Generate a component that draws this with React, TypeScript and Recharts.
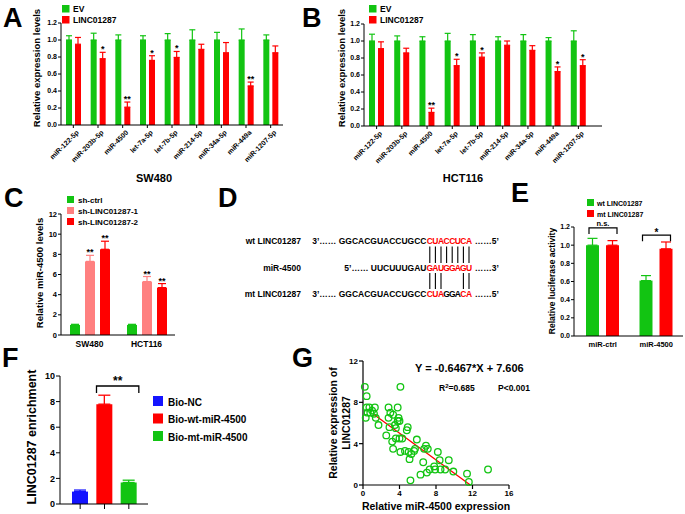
import React from 'react';
import { BarChart, Bar, XAxis, YAxis, ErrorBar, LabelList, ScatterChart, Scatter, ReferenceLine } from 'recharts';

const FONT = '"Liberation Sans", Arial, Helvetica, sans-serif';
const GREEN = '#12c412';
const RED = '#ff0000';
const PINK = '#ff8080';
const BLUE = '#1414ff';

// A / B: miRNA screen after LINC01287 overexpression
const mirnas = ['miR-122-5p', 'miR-203b-5p', 'miR-4500', 'let-7a-5p', 'let-7b-5p', 'miR-214-5p', 'miR-34a-5p', 'miR-449a', 'miR-1207-5p'];
const swEv = [1, 1, 1, 1, 1, 1, 1, 1, 1];
const swEvErr = [0.05, 0.08, 0.06, 0.05, 0.075, 0.12, 0.09, 0.13, 0.06];
const swLinc = [0.95, 0.78, 0.21, 0.76, 0.795, 0.89, 0.85, 0.46, 0.85];
const swLincErr = [0.08, 0.075, 0.06, 0.055, 0.07, 0.06, 0.12, 0.045, 0.08];
const swStars = ['', '*', '**', '*', '*', '', '', '**', ''];

const hctEv = [1, 1, 1, 1, 1, 1, 1, 1, 1];
const hctEvErr = [0.08, 0.06, 0.05, 0.09, 0.075, 0.05, 0.075, 0.04, 0.12];
const hctLinc = [0.91, 0.86, 0.16, 0.71, 0.81, 0.95, 0.89, 0.64, 0.71];
const hctLincErr = [0.08, 0.055, 0.05, 0.075, 0.05, 0.05, 0.055, 0.055, 0.07];
const hctStars = ['', '', '**', '*', '*', '', '', '*', '*'];

// C: miR-4500 after knockdown
const cLines = ['SW480', 'HCT116'];
const cCtrl = [1, 1];
const cCtrlErr = [0.06, 0.06];
const cSh1 = [7.3, 5.3];
const cSh1Err = [0.6, 0.5];
const cSh2 = [8.5, 4.7];
const cSh2Err = [0.8, 0.4];
const cStars = ['**', '**'];

// E: luciferase
const eGroups = ['miR-ctrl', 'miR-4500'];
const eWt = [1.0, 0.61];
const eWtErr = [0.075, 0.055];
const eMt = [1.0, 0.96];
const eMtErr = [0.05, 0.075];
const eSig = ['n.s.', '*'];
const eSigAt = [1.19, 1.11];

// F: biotin pulldown
const fGroups = ['Bio-NC', 'Bio-wt-miR-4500', 'Bio-mt-miR-4500'];
const fKeys = ['nc', 'wt', 'mt'];
const fVals = [0.97, 7.8, 1.68];
const fErr = [0.12, 0.7, 0.18];
const fColors = [BLUE, RED, GREEN];
const fSigPair = [1, 2];
const fSigText = '**';
const fSigAt = 9.22;

// G: correlation
const gX = [0.2, 0.4, 0.4, 0.7, 0.5, 0.3, 0.8, 1.0, 1.3, 1.2, 1.4, 1.7, 2.8, 3.0, 2.8, 3.3, 3.8, 3.9, 3.8, 4.0, 4.1, 3.5, 2.9, 3.6, 2.55, 3.2, 3.6, 4.0, 4.3, 3.3, 4.1, 4.6, 4.9, 4.8, 5.0, 5.3, 5.1, 5.6, 5.7, 5.9, 5.2, 6.3, 6.6, 6.7, 6.9, 7.1, 7.3, 7.0, 8.4, 7.8, 7.9, 8.2, 8.5, 9.0, 9.4, 9.9, 11.4, 11.6, 13.7];
const gY = [9.5, 8.6, 7.5, 7.5, 7.0, 6.5, 7.0, 7.2, 7.5, 6.9, 6.5, 5.8, 7.5, 7.0, 6.5, 6.8, 7.5, 6.5, 6.2, 6.2, 9.5, 5.8, 5.6, 5.5, 4.8, 4.2, 4.5, 4.5, 4.5, 3.5, 3.2, 3.3, 5.6, 5.3, 3.2, 3.0, 2.5, 3.3, 3.5, 4.4, 0.45, 1.0, 2.2, 3.5, 3.8, 3.5, 1.5, 1.2, 2.4, 1.8, 1.5, 3.2, 1.5, 1.5, 2.4, 1.3, 1.1, 0.3, 1.5];
const fitSlope = -0.6467;
const fitIntercept = 7.606;
const fitFrom = 1.2;

const tickStyle = (fs: number) => ({ fontSize: fs, fontWeight: 'bold', fill: '#000', fontFamily: FONT });

const starContent = (vals: number[], errs: number[], fs: number) => (p: any) => {
  const { x, y, width, height, value, index } = p;
  if (!value) return null;
  const top = Number(y) - (errs[index] * Number(height)) / vals[index];
  return (
    <text x={Number(x) + Number(width) / 2} y={top} textAnchor="middle" fontSize={fs} fontWeight="bold" fontFamily={FONT} fill="#000">
      {value}
    </text>
  );
};

const RotTick = (p: any) => {
  const x = Number(p.x) + 6;
  const y = Number(p.y) + 3;
  return (
    <text x={x} y={y} transform={`rotate(-45 ${x} ${y})`} textAnchor="end" fontSize={7} fontWeight="bold" fontFamily={FONT} fill="#000">
      {p.payload.value}
    </text>
  );
};

const catTick = (fs: number, dy: number) => (p: any) => (
  <text x={p.x} y={Number(p.y) + dy} textAnchor="middle" fontSize={fs} fontWeight="bold" fontFamily={FONT} fill="#000">
    {p.payload.value}
  </text>
);

function ScreenChart(props: any) {
  const { ev, evErr, linc, lincErr, stars, width, height, top, right, yW, padRight } = props;
  const rows = mirnas.map((name, i) => ({
    name,
    ev: ev[i],
    evErr: [0, evErr[i]],
    linc: linc[i],
    lincErr: [0, lincErr[i]],
    star: stars[i],
  }));
  return (
    <BarChart width={width} height={height} data={rows} margin={{ top, right, bottom: 0, left: 0 }} barSize={6} barGap={3}>
      <XAxis dataKey="name" interval={0} height={height - top - 102} tick={<RotTick />} tickSize={3} stroke="#000" padding={{ left: 0, right: padRight }} />
      <YAxis domain={[0, 1.2]} ticks={[0, 0.2, 0.4, 0.6, 0.8, 1.0, 1.2]} interval={0} width={yW} tickFormatter={(v: number) => v.toFixed(1)} tick={tickStyle(7)} tickSize={3} tickMargin={1} stroke="#000" />
      <Bar dataKey="ev" fill={GREEN} isAnimationActive={false}>
        <ErrorBar dataKey="evErr" width={3} stroke={GREEN} strokeWidth={1.2} />
      </Bar>
      <Bar dataKey="linc" fill={RED} isAnimationActive={false}>
        <ErrorBar dataKey="lincErr" width={3} stroke={RED} strokeWidth={1.2} />
        <LabelList dataKey="star" content={starContent(linc, lincErr, 9)} />
      </Bar>
    </BarChart>
  );
}

function KnockdownChart() {
  const rows = cLines.map((name, i) => ({
    name,
    ctrl: cCtrl[i], ctrlErr: [0, cCtrlErr[i]],
    sh1: cSh1[i], sh1Err: [0, cSh1Err[i]],
    sh2: cSh2[i], sh2Err: [0, cSh2Err[i]],
    star: cStars[i],
  }));
  return (
    <BarChart width={185} height={170} data={rows} margin={{ top: 29, right: 10, bottom: 0, left: 0 }} barSize={10} barGap={5}>
      <XAxis dataKey="name" interval={0} height={20} tickLine={false} tickSize={0} tick={catTick(8.5, 10)} stroke="#000" />
      <YAxis domain={[0, 12]} ticks={[0, 2, 4, 6, 8, 10, 12]} interval={0} width={61} tick={tickStyle(7.5)} tickSize={3} tickMargin={1} stroke="#000" />
      <Bar dataKey="ctrl" fill={GREEN} isAnimationActive={false}>
        <ErrorBar dataKey="ctrlErr" width={4} stroke={GREEN} strokeWidth={1.2} />
      </Bar>
      <Bar dataKey="sh1" fill={PINK} isAnimationActive={false}>
        <ErrorBar dataKey="sh1Err" width={4} stroke={PINK} strokeWidth={1.2} />
        <LabelList dataKey="star" content={starContent(cSh1, cSh1Err, 9)} />
      </Bar>
      <Bar dataKey="sh2" fill={RED} isAnimationActive={false}>
        <ErrorBar dataKey="sh2Err" width={4} stroke={RED} strokeWidth={1.2} />
        <LabelList dataKey="star" content={starContent(cSh2, cSh2Err, 9)} />
      </Bar>
    </BarChart>
  );
}

const E_GAP = 7;
const bracketE = (p: any) => {
  const { x, y, width, height, value, index } = p;
  const ppu = Number(height) / eMt[index];
  const by = Number(y) + Number(height) - eSigAt[index] * ppu;
  const x1 = Number(x) - E_GAP - Number(width) + 3;
  const x2 = Number(x) + Number(width) - 2;
  const star = value === '*';
  return (
    <g>
      <path d={`M${x1},${by + 6}V${by}H${x2}V${by + 6}`} stroke="#000" strokeWidth={1.2} fill="none" />
      <text x={(x1 + x2) / 2} y={star ? by + 1 : by - 2} textAnchor="middle" fontSize={star ? 10 : 7.5} fontWeight="bold" fontFamily={FONT} fill="#000">
        {value}
      </text>
    </g>
  );
};

function LuciferaseChart() {
  const rows = eGroups.map((name, i) => ({
    name,
    wt: eWt[i], wtErr: [0, eWtErr[i]],
    mt: eMt[i], mtErr: [0, eMtErr[i]],
    sig: eSig[i],
  }));
  return (
    <BarChart width={185} height={170} data={rows} margin={{ top: 42, right: 2, bottom: 0, left: 0 }} barSize={13} barGap={E_GAP}>
      <XAxis dataKey="name" interval={0} height={19} tickLine={false} tickSize={0} tick={catTick(7.5, 9)} stroke="#000" padding={{ left: 2, right: 0 }} />
      <YAxis domain={[0, 1.2]} ticks={[0, 0.2, 0.4, 0.6, 0.8, 1.0, 1.2]} interval={0} width={74} tickFormatter={(v: number) => v.toFixed(1)} tick={tickStyle(7)} tickSize={3} tickMargin={1} stroke="#000" />
      <Bar dataKey="wt" fill={GREEN} isAnimationActive={false}>
        <ErrorBar dataKey="wtErr" width={5} stroke={GREEN} strokeWidth={1.2} />
      </Bar>
      <Bar dataKey="mt" fill={RED} isAnimationActive={false}>
        <ErrorBar dataKey="mtErr" width={5} stroke={RED} strokeWidth={1.2} />
        <LabelList dataKey="sig" content={bracketE} />
      </Bar>
    </BarChart>
  );
}

// bracket drawn between two band centres, widened to the outer bar edges
const F_BAR = 16;
const BracketShape = (p: any) => {
  const x1 = Number(p.x1) - F_BAR / 2;
  const x2 = Number(p.x2) + F_BAR / 2 + 2;
  const y = Number(p.y1);
  return (
    <g>
      <path d={`M${x1},${y + 7}V${y}H${x2}V${y + 7}`} stroke="#000" strokeWidth={1.3} fill="none" />
      <text x={(x1 + x2) / 2} y={y - 1} textAnchor="middle" fontSize={12} fontWeight="bold" fontFamily={FONT} fill="#000">
        {fSigText}
      </text>
    </g>
  );
};

function fRows() {
  return fGroups.map((name, i) => {
    const r: any = { name };
    r[fKeys[i]] = fVals[i];
    r[fKeys[i] + 'Err'] = [0, fErr[i]];
    return r;
  });
}

// F base layer: axes and bars
function PulldownChart() {
  const rows = fRows();
  return (
    <BarChart width={150} height={169} data={rows} margin={{ top: 31, right: 2, bottom: 0, left: 0 }} barSize={F_BAR}>
      <XAxis dataKey="name" interval={0} height={10} tickSize={5} tickFormatter={() => ''} stroke="#000" padding={{ left: 8, right: 7 }} />
      <YAxis domain={[0, 10]} ticks={[0, 2, 4, 6, 8, 10]} interval={0} width={60} tick={tickStyle(9)} tickSize={4} tickMargin={1} stroke="#000" />
      {fKeys.map((k, i) => (
        <Bar key={k} dataKey={k} stackId="f" fill={fColors[i]} isAnimationActive={false} />
      ))}
    </BarChart>
  );
}

// F top layer: same geometry, axes hidden, whiskers and significance bracket
function PulldownMarks() {
  const rows = fRows();
  return (
    <BarChart width={150} height={169} data={rows} margin={{ top: 31, right: 2, bottom: 10, left: 60 }} barSize={F_BAR}>
      <XAxis dataKey="name" hide padding={{ left: 8, right: 7 }} />
      <YAxis domain={[0, 10]} hide />
      {fKeys.map((k, i) => (
        <Bar key={k} dataKey={k} stackId="f" fill="none" isAnimationActive={false}>
          <ErrorBar dataKey={k + 'Err'} width={6} stroke={fColors[i]} strokeWidth={1.3} />
        </Bar>
      ))}
      <ReferenceLine
        segment={[
          { x: fGroups[fSigPair[0]], y: fSigAt },
          { x: fGroups[fSigPair[1]], y: fSigAt },
        ]}
        shape={BracketShape}
        ifOverflow="visible"
      />
    </BarChart>
  );
}

const Ring = (p: any) => <circle cx={p.cx} cy={p.cy} r={3.3} fill="none" stroke={GREEN} strokeWidth={1.3} />;

function CorrelationChart() {
  const pts = gX.map((x, i) => ({ x, y: gY[i] }));
  const fitTo = -fitIntercept / fitSlope;
  return (
    <ScatterChart width={230} height={169} margin={{ top: 16, right: 11, bottom: 14, left: 0 }}>
      <XAxis type="number" dataKey="x" domain={[0, 16]} ticks={[0, 4, 8, 12, 16]} interval={0} height={15} tick={tickStyle(8)} tickSize={4} tickMargin={1} stroke="#000" strokeWidth={1.2} />
      <YAxis type="number" dataKey="y" domain={[0, 12]} ticks={[0, 4, 8, 12]} interval={0} width={73} tick={tickStyle(8)} tickSize={4} tickMargin={1} stroke="#000" strokeWidth={1.2} />
      <ReferenceLine
        segment={[
          { x: fitFrom, y: fitSlope * fitFrom + fitIntercept },
          { x: fitTo, y: fitSlope * fitTo + fitIntercept },
        ]}
        stroke={RED}
        strokeWidth={1.3}
        ifOverflow="visible"
      />
      <Scatter data={pts} shape={Ring} isAnimationActive={false} />
    </ScatterChart>
  );
}

const legendA = [{ name: 'EV', color: GREEN }, { name: 'LINC01287', color: RED }];
const legendC = [{ name: 'sh-ctrl', color: GREEN }, { name: 'sh-LINC01287-1', color: PINK }, { name: 'sh-LINC01287-2', color: RED }];
const legendE = [{ name: 'wt LINC01287', color: GREEN }, { name: 'mt LINC01287', color: RED }];
const legendF = fGroups.map((name, i) => ({ name, color: fColors[i] }));

function SqLegend({ items, x, y, size, step, fs, tx }: any) {
  return (
    <g>
      {items.map((it: any, i: number) => (
        <g key={it.name}>
          <rect x={x} y={y + i * step} width={size} height={size} fill={it.color} />
          <text x={x + tx} y={y + i * step + size - 0.5} fontSize={fs}>{it.name}</text>
        </g>
      ))}
    </g>
  );
}

const dRows = [
  { name: 'wt LINC01287', left: '3’…… GGCACGUACCUGCC', core: 'CUACCUCA', red: [1, 1, 1, 1, 1, 1, 1, 1], right: '……5’' },
  { name: 'miR-4500', left: '5’…… UUCUUUGAU', core: 'GAUGGAGU', red: [1, 1, 1, 1, 1, 1, 1, 1], right: '……3’' },
  { name: 'mt LINC01287', left: '3’…… GGCACGUACCUGCC', core: 'CUAGGACA', red: [1, 1, 1, 0, 0, 0, 1, 1], right: '……5’' },
];
const dPairsTop = [0, 1, 2, 3, 4, 5, 6, 7];
const dPairsBottom = [0, 1, 2, 6, 7];

function SequencePanel() {
  const base = [244, 270.5, 297];
  const x0 = 427;
  const step = 5.6;
  return (
    <g fontSize={8.5}>
      {dRows.map((r, k) => (
        <g key={r.name + k}>
          <text x={301} y={base[k]} textAnchor="end">{r.name}</text>
          <text x={x0 - 0.5} y={base[k]} textAnchor="end">{r.left}</text>
          {r.core.split('').map((c, i) => (
            <text key={i} x={x0 + step * i + step / 2} y={base[k]} textAnchor="middle" fill={r.red[i] ? RED : '#000'}>{c}</text>
          ))}
          <text x={x0 + step * 8 + 3} y={base[k]}>{r.right}</text>
        </g>
      ))}
      {dPairsTop.map((i) => (
        <line key={'t' + i} x1={x0 + step * i + step / 2} x2={x0 + step * i + step / 2} y1={246.5} y2={263} stroke="#000" strokeWidth={1.1} />
      ))}
      {dPairsBottom.map((i) => (
        <line key={'b' + i} x1={x0 + step * i + step / 2} x2={x0 + step * i + step / 2} y1={273} y2={289} stroke="#000" strokeWidth={1.1} />
      ))}
    </g>
  );
}

function Overlay() {
  const letter = { fontSize: 27 };
  return (
    <svg width={685} height={514} style={{ position: 'absolute', left: 0, top: 0, pointerEvents: 'none', zIndex: 5 }} fontFamily={FONT} fontWeight="bold" fill="#000">
      <text x={3} y={27} {...letter}>A</text>
      <text x={302} y={27} {...letter}>B</text>
      <text x={4} y={207} {...letter}>C</text>
      <text x={218} y={207} {...letter}>D</text>
      <text x={511} y={202} {...letter}>E</text>
      <text x={2} y={367} {...letter}>F</text>
      <text x={292} y={367} {...letter}>G</text>

      <text x={154} y={182} fontSize={11} textAnchor="middle">SW480</text>
      <text x={463} y={182} fontSize={11} textAnchor="middle">HCT116</text>

      <SqLegend items={legendA} x={62} y={5} size={7.5} step={11} fs={8.5} tx={11} />
      <SqLegend items={legendA} x={369} y={5} size={7.5} step={11} fs={8.5} tx={11} />
      <SqLegend items={legendC} x={67} y={196} size={7} step={11} fs={8} tx={11} />
      <SqLegend items={legendE} x={587} y={199} size={7} step={11} fs={7} tx={10} />
      <SqLegend items={legendF} x={153} y={396} size={10} step={17.5} fs={10} tx={15} />

      <text transform="translate(40,68) rotate(-90)" textAnchor="middle" fontSize={9.5}>Relative expression levels</text>
      <text transform="translate(345,68) rotate(-90)" textAnchor="middle" fontSize={9.5}>Relative expression levels</text>
      <text transform="translate(43,273) rotate(-90)" textAnchor="middle" fontSize={9.5}>Relative miR-4500 levels</text>
      <text transform="translate(555,281) rotate(-90)" textAnchor="middle" fontSize={8.5}>Relative luciferase activity</text>
      <text transform="translate(36,437) rotate(-90)" textAnchor="middle" fontSize={12.5}>LINC01287 enrichment</text>
      <text transform="translate(337,423) rotate(-90)" textAnchor="middle" fontSize={10.5}>Relative expression of</text>
      <text transform="translate(350,423) rotate(-90)" textAnchor="middle" fontSize={10.5}>LINC01287</text>
      <text x={436} y={510} textAnchor="middle" fontSize={10.5}>Relative miR-4500 expression</text>

      <text x={415} y={372} fontSize={11}>Y = -0.6467*X + 7.606</text>
      <text x={439} y={391} fontSize={8.5}>
        R<tspan dy={-3.5} fontSize={6}>2</tspan><tspan dy={3.5}>=0.685</tspan>
      </text>
      <text x={498} y={391} fontSize={8.5}>P&lt;0.001</text>

      <SequencePanel />
    </svg>
  );
}

const Box = ({ left, top, z, children }: any) => <div style={{ position: 'absolute', left, top, zIndex: z ?? 1 }}>{children}</div>;

export default function App() {
  return (
    <div style={{ position: 'absolute', left: 0, top: 0, width: 685, height: 514, background: '#fff', fontFamily: FONT, overflow: 'hidden' }}>
      <Box left={0} top={0}>
        <ScreenChart ev={swEv} evErr={swEvErr} linc={swLinc} lincErr={swLincErr} stars={swStars} width={292} height={175} top={23} right={9} yW={61} padRight={0} />
      </Box>
      <Box left={300} top={0}>
        <ScreenChart ev={hctEv} evErr={hctEvErr} linc={hctLinc} lincErr={hctLincErr} stars={hctStars} width={310} height={175} top={24} right={8} yW={64} padRight={11} />
      </Box>
      <Box left={0} top={185}>
        <KnockdownChart />
      </Box>
      <Box left={500} top={185}>
        <LuciferaseChart />
      </Box>
      <Box left={0} top={345} z={3}>
        <PulldownChart />
      </Box>
      <Box left={0} top={345} z={4}>
        <PulldownMarks />
      </Box>
      <Box left={290} top={345}>
        <CorrelationChart />
      </Box>
      <Overlay />
    </div>
  );
}
